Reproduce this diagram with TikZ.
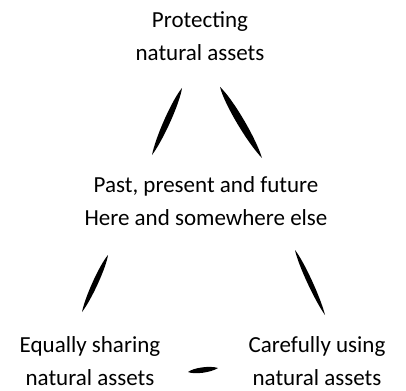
\documentclass[tikz,border=0pt]{standalone}
\usepackage{fontspec}
\setmainfont{Carlito}
\usetikzlibrary{calc}

% tapered brush stroke between two points
\newcommand{\brush}[3]{%
  \fill[black] (#1) .. controls ($(#1)!0.2!(#2)!#3!90:(#2)$) and ($(#1)!0.75!(#2)!#3!90:(#2)$) .. (#2)
    .. controls ($(#2)!0.25!(#1)!#3!90:(#1)$) and ($(#2)!0.8!(#1)!#3!90:(#1)$) .. (#1) -- cycle;}

\begin{document}
\begin{tikzpicture}[x=1pt,y=-1pt,
    words/.style={font=\fontsize{23}{33}\selectfont, align=center, anchor=base, inner sep=0pt}]
			\useasboundingbox (0,0) rectangle (406,390);

			% Texts
			\node[words] (protect) at (200,61) {Protecting\\natural assets};
			\node[words] (time) at (206,225) {Past, present and future\\Here and somewhere else};
			\node[words] (share) at (90,385) {Equally sharing\\natural assets};
			\node[words] (use) at (317,385) {Carefully using\\natural assets};

			% Stroke ends
			\coordinate (a1) at (182,88);  \coordinate (a2) at (152,155);
			\coordinate (b1) at (220,87);  \coordinate (b2) at (262,158);
			\coordinate (c1) at (108,255); \coordinate (c2) at (82,312);
			\coordinate (d1) at (295,250); \coordinate (d2) at (325,315);
			\coordinate (e1) at (188,372); \coordinate (e2) at (218,368);

			% Strokes
			\brush{a1}{a2}{4.2pt}
			\brush{b1}{b2}{5pt}
			\brush{c1}{c2}{3.6pt}
			\brush{d1}{d2}{3.4pt}
			\brush{e1}{e2}{3.6pt}
		\end{tikzpicture}
\end{document}
